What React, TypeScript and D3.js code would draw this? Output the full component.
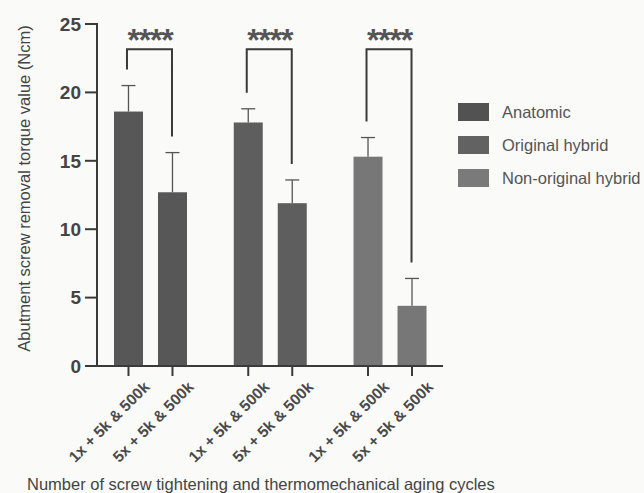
import React from "react";
import * as d3 from "d3";

// Screw removal torque (Ncm): mean and SD per abutment type and cycle protocol
const categories = ["1x + 5k & 500k", "5x + 5k & 500k"];
const groups = ["Anatomic", "Original hybrid", "Non-original hybrid"];
const anatomicMeans = [18.6, 12.7];
const anatomicSD = [1.9, 2.9];
const originalMeans = [17.8, 11.9];
const originalSD = [1.0, 1.7];
const nonOriginalMeans = [15.3, 4.4];
const nonOriginalSD = [1.4, 2.0];
const yTicks = [0, 5, 10, 15, 20, 25];
const significance = ["****", "****", "****"];

const means = [anatomicMeans, originalMeans, nonOriginalMeans];
const sds = [anatomicSD, originalSD, nonOriginalSD];

const W = 644;
const H = 493;
const axisX = 97;
const fillColors = ["#575757", "#5e5e5e", "#777777"];
const legendColors = ["#525252", "#626262", "#7a7a7a"];

export default function App() {
  const y = d3.scaleLinear().domain([0, 25]).range([366, 24]);
  const xGroup = d3.scaleBand<string>().domain(groups).range([90.6, 449.9]);
  const step = xGroup.step();
  const xInner = d3
    .scalePoint<string>()
    .domain(categories)
    .range([step / 2 - 22, step / 2 + 22]);
  const barW = 29;
  const capW = 14;
  const bracketTop = y(23.15);
  const gap = 16;
  const font = "'Liberation Sans', Arial, sans-serif";
  const ink = "#3a3a3a";

  return (
    <div style={{ position: "fixed", left: 0, top: 0 }}>
      <svg width={W} height={H} style={{ display: "block" }}>
        <rect width={W} height={H} fill="#fafaf8" />

        {/* bars with upper error whiskers */}
        {groups.map((g, gi) =>
          categories.map((c, ci) => {
            const cx = (xGroup(g) as number) + (xInner(c) as number);
            const m = means[gi][ci];
            const top = y(m + sds[gi][ci]);
            return (
              <g key={g + c}>
                <rect
                  x={cx - barW / 2}
                  y={y(m)}
                  width={barW}
                  height={y(0) - y(m)}
                  fill={fillColors[gi]}
                />
                <line x1={cx} x2={cx} y1={y(m)} y2={top} stroke="#555" strokeWidth={1.3} />
                <line x1={cx - capW / 2} x2={cx + capW / 2} y1={top} y2={top} stroke="#555" strokeWidth={1.3} />
              </g>
            );
          })
        )}

        {/* significance brackets */}
        {groups.map((g, gi) => {
          const x1 = (xGroup(g) as number) + (xInner(categories[0]) as number) - 1.5;
          const x2 = (xGroup(g) as number) + (xInner(categories[1]) as number) - 0.5;
          const l = y(means[gi][0] + sds[gi][0]) - gap;
          const r = y(means[gi][1] + sds[gi][1]) - gap;
          return (
            <g key={"b" + g}>
              <path
                d={`M${x1},${l}V${bracketTop}H${x2}V${r}`}
                fill="none"
                stroke={ink}
                strokeWidth={2}
              />
              <text
                x={(x1 + x2) / 2 + 0.6}
                y={bracketTop + 2}
                textAnchor="middle"
                fontFamily={font}
                fontWeight="bold"
                fontSize={32}
                letterSpacing={-1.2}
                fill="#555"
              >
                {significance[gi]}
              </text>
            </g>
          );
        })}

        {/* y axis */}
        <line x1={axisX} x2={axisX} y1={y(25) - 1} y2={y(0) + 1} stroke={ink} strokeWidth={2} />
        {yTicks.map((t) => (
          <g key={"y" + t}>
            <line x1={axisX - 12} x2={axisX} y1={y(t)} y2={y(t)} stroke={ink} strokeWidth={2} />
            <text
              x={axisX - 16}
              y={y(t)}
              dy="0.36em"
              textAnchor="end"
              fontFamily={font}
              fontWeight="bold"
              fontSize={19}
              fill="#444"
            >
              {t}
            </text>
          </g>
        ))}
        <text
          transform={`translate(30,188.5) rotate(-90)`}
          textAnchor="middle"
          fontFamily={font}
          fontSize={16.5}
          fill="#444"
        >
          Abutment screw removal torque value (Ncm)
        </text>

        {/* x axis */}
        <line x1={axisX - 1} x2={443} y1={y(0)} y2={y(0)} stroke={ink} strokeWidth={2} />
        {groups.map((g) =>
          categories.map((c) => {
            const cx = (xGroup(g) as number) + (xInner(c) as number);
            return (
              <g key={"x" + g + c}>
                <line x1={cx} x2={cx} y1={y(0)} y2={y(0) + 10} stroke={ink} strokeWidth={2} />
                <text
                  transform={`translate(${cx + 22},${y(0) + 22}) rotate(-45)`}
                  textAnchor="end"
                  fontFamily={font}
                  fontWeight="bold"
                  fontSize={15.5}
                  fill="#4a4a4a"
                >
                  {c}
                </text>
              </g>
            );
          })
        )}
        <text x={27} y={490} fontFamily={font} fontSize={16.5} fill="#444">
          Number of screw tightening and thermomechanical aging cycles
        </text>

        {/* legend */}
        {groups.map((g, gi) => (
          <g key={"l" + g} transform={`translate(458,${103 + gi * 33})`}>
            <rect width={31} height={18} fill={legendColors[gi]} />
            <text x={44} y={9} dy="0.36em" fontFamily={font} fontSize={16.5} fill="#555">
              {g}
            </text>
          </g>
        ))}
      </svg>
    </div>
  );
}
